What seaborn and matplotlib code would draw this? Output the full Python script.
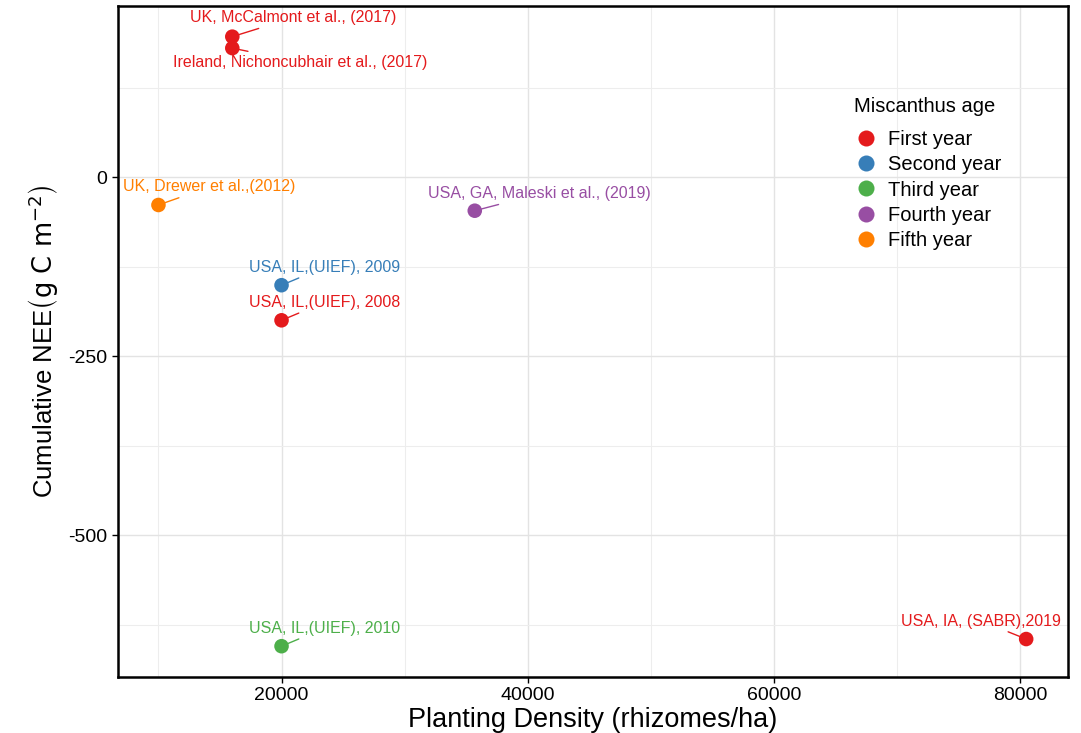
import pandas as pd
import matplotlib
matplotlib.use("Agg")
import matplotlib.pyplot as plt
from matplotlib.ticker import MultipleLocator
import seaborn as sns

# values
density = [16000, 16000, 10000, 35700, 20000, 20000, 20000, 80500]
nee = [196, 180, -39, -47, -151, -200, -655, -645]
age = ["First year", "First year", "Fifth year", "Fourth year",
       "Second year", "First year", "Third year", "First year"]
site = ["UK, McCalmont et al., (2017)",
        "Ireland, Nichoncubhair et al., (2017)",
        "UK, Drewer et al.,(2012)",
        "USA, GA, Maleski et al., (2019)",
        "USA, IL,(UIEF), 2009",
        "USA, IL,(UIEF), 2008",
        "USA, IL,(UIEF), 2010",
        "USA, IA, (SABR),2019"]
age_order = ["First year", "Second year", "Third year", "Fourth year", "Fifth year"]
age_colors = ["#E41A1C", "#377EB8", "#4DAF4A", "#984EA3", "#FF7F00"]

# label offsets (pixels) like ggrepel placed them
label_offsets = [(61, 19), (68, -14), (51, 18), (65, 17),
                 (43, 18), (43, 18), (43, 18), (-45, 18)]

df = pd.DataFrame({"density": density, "nee": nee, "age": age, "site": site})
palette = dict(zip(age_order, age_colors))

sns.set_theme(style="whitegrid")
plt.rcParams["font.family"] = ["Liberation Sans", "DejaVu Sans"]
plt.rcParams["mathtext.default"] = "regular"
plt.rcParams["axes.unicode_minus"] = False
plt.rcParams["text.color"] = "black"
plt.rcParams["axes.labelcolor"] = "black"

fig = plt.figure(figsize=(10.81, 7.33), dpi=100)
ax = fig.add_axes([0.109, 0.0764, 0.879, 0.9156])

sns.scatterplot(data=df, x="density", y="nee", hue="age", hue_order=age_order,
                palette=palette, s=110, edgecolor="none", ax=ax, zorder=3)

for x, y, txt, a, (dx, dy) in zip(density, nee, site, age, label_offsets):
    ax.annotate(txt, xy=(x, y), xytext=(dx, dy), textcoords="offset pixels",
                ha="center", va="center", fontsize=11.5, color=palette[a],
                arrowprops=dict(arrowstyle="-", color=palette[a], lw=1,
                                shrinkA=0, shrinkB=5),
                zorder=4)

ax.set_xlim(6700, 83900)
ax.set_ylim(-698, 239)
ax.set_xticks([20000, 40000, 60000, 80000])
ax.set_yticks([-500, -250, 0])
ax.xaxis.set_minor_locator(MultipleLocator(10000))
ax.yaxis.set_minor_locator(MultipleLocator(125))
ax.grid(which="major", color="#E3E3E3", lw=1.0)
ax.grid(which="minor", color="#EDEDED", lw=0.8)
ax.tick_params(which="major", length=4, width=1, color="black",
               labelsize=14, labelcolor="black", bottom=True, left=True)
ax.tick_params(which="minor", length=0)
for sp in ax.spines.values():
    sp.set_color("black")
    sp.set_linewidth(1.8)

ax.set_xlabel("Planting Density (rhizomes/ha)", fontsize=19.5, labelpad=2)
ax.set_ylabel(r"Cumulative NEE$\left(\mathrm{g\ C\ m^{-2}}\right)$",
              fontsize=18.5, labelpad=5)

leg = ax.legend(title="Miscanthus age", loc="upper left",
                bbox_to_anchor=(0.76, 0.885), frameon=False,
                fontsize=14.5, title_fontsize=14.5, markerscale=1.1,
                handlelength=1.2, handletextpad=0.5, labelspacing=0.31,
                borderpad=0.2)
leg._legend_box.align = "left"
leg._legend_box.sep = 10

fig.savefig("out.png", dpi=100)
